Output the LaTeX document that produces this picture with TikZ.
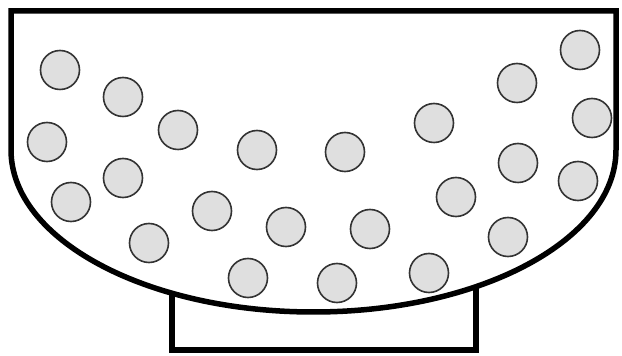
\documentclass[tikz,border=0pt]{standalone}
\begin{document}
\begin{tikzpicture}[x=1pt,y=1pt,
  ball/.style={circle,draw=black!80,line width=1.6pt,fill=gray!25,minimum size=39pt,inner sep=0pt},
  outline/.style={draw=black,line width=5.5pt,line join=miter}]
\useasboundingbox (0,0) rectangle (622,356);
% base
\draw[outline,fill=white] (172,90) -- (172,6) -- (476,6) -- (476,90);
% bowl
\draw[outline,fill=white] (11,206) -- (11,345) -- (616,345) -- (616,206)
  arc[start angle=0,end angle=-180,x radius=302.5pt,y radius=162pt] -- cycle;
% balls
\node[ball] (b1) at (60,286) {};
\node[ball] (b2) at (123,259) {};
\node[ball] (b3) at (47,214) {};
\node[ball] (b4) at (178,226) {};
\node[ball] (b5) at (71,154) {};
\node[ball] (b6) at (123,178) {};
\node[ball] (b7) at (257,206) {};
\node[ball] (b8) at (345,204) {};
\node[ball] (b9) at (434,233) {};
\node[ball] (b10) at (517,273) {};
\node[ball] (b11) at (580,306) {};
\node[ball] (b12) at (592,238) {};
\node[ball] (b13) at (518,193) {};
\node[ball] (b14) at (578,175) {};
\node[ball] (b15) at (456,159) {};
\node[ball] (b16) at (508,119) {};
\node[ball] (b17) at (149,113) {};
\node[ball] (b18) at (212,145) {};
\node[ball] (b19) at (286,129) {};
\node[ball] (b20) at (370,127) {};
\node[ball] (b21) at (248,78) {};
\node[ball] (b22) at (337,73) {};
\node[ball] (b23) at (429,83) {};
\end{tikzpicture}
\end{document}
